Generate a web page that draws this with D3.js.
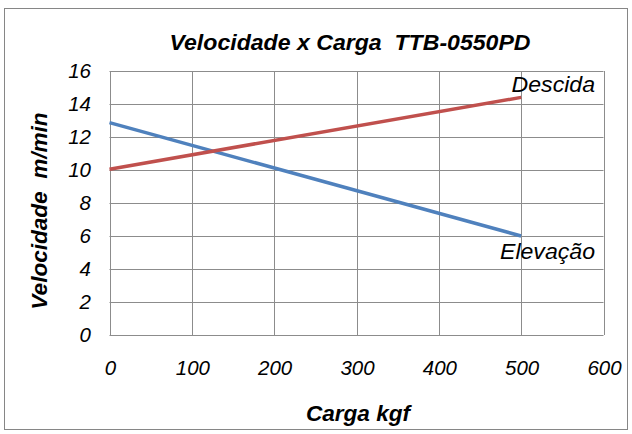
<!DOCTYPE html>
<html><head><meta charset="utf-8">
<script src="https://cdnjs.cloudflare.com/ajax/libs/d3/7.8.5/d3.min.js"></script>
<style>body{margin:0;background:#fff}svg{display:block}text{font-family:"Liberation Sans",Arial,sans-serif;font-style:italic;fill:#000}</style>
</head><body><svg id="c" width="632" height="434"></svg>
<script>
const cargas = [0, 500];
const descida = [10.05, 14.4];
const elevacao = [12.87, 6.0];
const xTicks = [0, 100, 200, 300, 400, 500, 600];
const yTicks = [0, 2, 4, 6, 8, 10, 12, 14, 16];
const title = "Velocidade x Carga  TTB-0550PD";
const xTitle = "Carga kgf";
const yTitle = "Velocidade  m/min";

const S = 1.05;
const svg = d3.select("#c");
svg.append("rect").attr("x",4.5).attr("y",8.5).attr("width",623).attr("height",421)
  .attr("fill","#fff").attr("stroke","#868686");

const x = d3.scaleLinear().domain([0,600]).range([109.5,603.5]);
const y = d3.scaleLinear().domain([0,16]).range([335,71]);
const grid = "#8c8c8c";

const g = svg.append("g");
g.selectAll("line.v").data(xTicks).join("line").attr("class","v")
  .attr("x1",d=>Math.round(x(d))+0.5).attr("x2",d=>Math.round(x(d))+0.5)
  .attr("y1",y(16)).attr("y2",y(0)).attr("stroke",grid);
g.selectAll("line.h").data(yTicks).join("line").attr("class","h")
  .attr("y1",d=>Math.round(y(d))+0.5).attr("y2",d=>Math.round(y(d))+0.5)
  .attr("x1",x(0)).attr("x2",x(600)).attr("stroke",grid);

function txt(px,py,str,opts){
  const t = svg.append("text").attr("transform",`translate(${px},${py})${opts.rot?" rotate(-90)":""} scale(${S},1)`)
    .attr("text-anchor",opts.anchor||"middle").style("font-size",opts.size+"px")
    .style("white-space","pre").text(str);
  if(opts.bold) t.style("font-weight","bold");
  if(opts.dy) t.attr("dy",opts.dy);
  return t;
}
yTicks.forEach(d=>txt(91,y(d),String(d),{anchor:"end",size:19.5,dy:"0.36em"}));
xTicks.forEach(d=>txt(x(d)+1,375,String(d),{size:19.5}));

const line = d3.line().x(d=>x(d[0])).y(d=>y(d[1]));
svg.append("path").datum(cargas.map((c,i)=>[c,elevacao[i]])).attr("d",line)
  .attr("fill","none").attr("stroke","#4F81BD").attr("stroke-width",3.5);
svg.append("path").datum(cargas.map((c,i)=>[c,descida[i]])).attr("d",line)
  .attr("fill","none").attr("stroke","#C0504D").attr("stroke-width",3.5);

txt(350,50,title,{size:22,bold:true});
txt(358,421,xTitle,{size:21.5,bold:true});
txt(47,211,yTitle,{size:21.5,bold:true,rot:true});
txt(595,92,"Descida",{anchor:"end",size:22});
txt(595,259,"Elevação",{anchor:"end",size:22});
</script></body></html>
